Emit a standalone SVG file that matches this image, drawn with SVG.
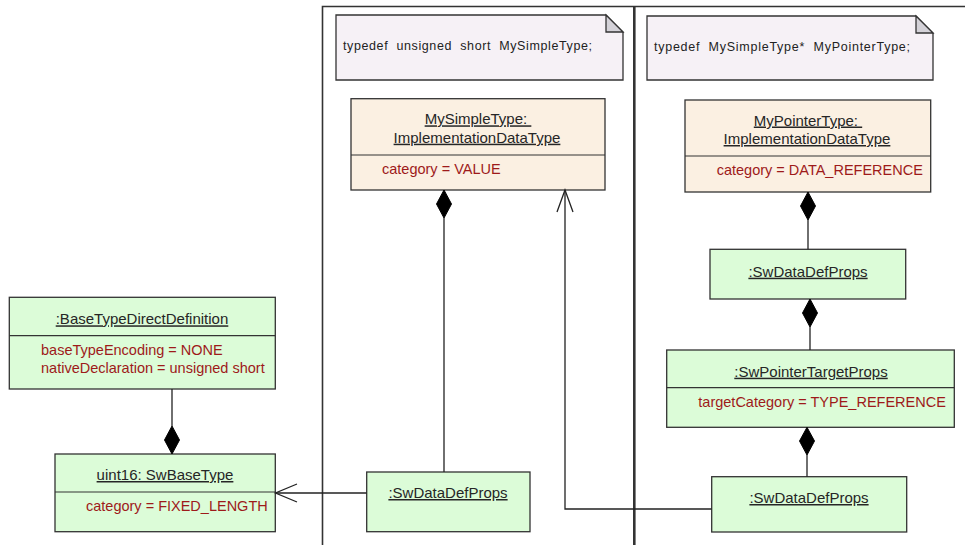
<svg xmlns="http://www.w3.org/2000/svg" width="965" height="545" viewBox="0 0 965 545">
<style>
.frame{fill:none;stroke:#333;stroke-width:1.6}
.note{fill:#f6f1f6;stroke:#333;stroke-width:1.3}
.ear{fill:#d4d2d8;stroke:#333;stroke-width:1.3}
.box{stroke:#333;stroke-width:1.3}
.green{fill:#dcfcd8}
.beige{fill:#fbf0e2}
.div{stroke:#333;stroke-width:1.2}
.t{font-family:"Liberation Sans",Arial,sans-serif;font-size:15px;fill:#262626}
.title{text-anchor:middle;text-decoration:underline}
.attr{font-family:"Liberation Sans",Arial,sans-serif;font-size:14.5px;fill:#9e1a1a}
.nt{font-family:"Liberation Sans",Arial,sans-serif;font-size:12.5px;fill:#222}
.ln{fill:none;stroke:#222;stroke-width:1.3}
.dia{fill:#000;stroke:#000;stroke-width:1}
</style>
<rect width="965" height="545" fill="#fff"/>
<g id="frames">
<path class="frame" d="M322.5,545 V6.5 H965"/>
<line class="frame" x1="634.3" y1="6.5" x2="634.3" y2="545" style="stroke-width:2.6"/>
</g>
<g id="note1">
<path class="note" d="M336,15 H606 L623,32 V80 H336 Z"/>
<path class="ear" d="M606,15 V32 H623 Z"/>
<text class="nt" x="343" y="49.5" xml:space="preserve" textLength="249" lengthAdjust="spacing">typedef  unsigned  short  MySimpleType;</text>
</g>
<g id="note2">
<path class="note" d="M647,16 H916 L933,33 V80 H647 Z"/>
<path class="ear" d="M916,16 V33 H933 Z"/>
<text class="nt" x="654" y="50.5" xml:space="preserve" textLength="256" lengthAdjust="spacing">typedef  MySimpleType*  MyPointerType;</text>
</g>
<g id="mySimpleType">
<rect class="box beige" x="351" y="98.7" width="254" height="91.3"/>
<line class="div" x1="351" y1="155" x2="605" y2="155"/>
<text class="t title" x="478" y="124.3" xml:space="preserve">MySimpleType: </text>
<text class="t title" x="477" y="142.7">ImplementationDataType</text>
<text class="attr" x="382" y="174">category = VALUE</text>
</g>
<g id="myPointerType">
<rect class="box beige" x="685" y="100" width="245.7" height="92"/>
<line class="div" x1="685" y1="156" x2="930.7" y2="156"/>
<text class="t title" x="808" y="125.5" xml:space="preserve">MyPointerType: </text>
<text class="t title" x="807" y="144">ImplementationDataType</text>
<text class="attr" x="716.7" y="175">category = DATA_REFERENCE</text>
</g>
<g id="swDataDefPropsTop">
<rect class="box green" x="710" y="249.3" width="195.7" height="49.7"/>
<text class="t title" x="808" y="276.7">:SwDataDefProps</text>
</g>
<g id="swPointerTargetProps">
<rect class="box green" x="666.7" y="350" width="287.6" height="77.3"/>
<line class="div" x1="666.7" y1="387.7" x2="954.3" y2="387.7"/>
<text class="t title" x="811" y="376.7">:SwPointerTargetProps</text>
<text class="attr" x="698.3" y="406.7">targetCategory = TYPE_REFERENCE</text>
</g>
<g id="swDataDefPropsBottomRight">
<rect class="box green" x="711.7" y="476.7" width="195" height="55.3"/>
<text class="t title" x="809" y="503">:SwDataDefProps</text>
</g>
<g id="swDataDefPropsLeft">
<rect class="box green" x="366.7" y="472" width="163.3" height="59.7"/>
<text class="t title" x="448" y="498">:SwDataDefProps</text>
</g>
<g id="baseTypeDirectDefinition">
<rect class="box green" x="9.3" y="297.3" width="266" height="91.7"/>
<line class="div" x1="9.3" y1="335.7" x2="275.3" y2="335.7"/>
<text class="t title" x="142" y="324.3">:BaseTypeDirectDefinition</text>
<text class="attr" x="41" y="355">baseTypeEncoding = NONE</text>
<text class="attr" x="41" y="373.3">nativeDeclaration = unsigned short</text>
</g>
<g id="uint16SwBaseType">
<rect class="box green" x="55" y="454" width="220.3" height="77.7"/>
<line class="div" x1="55" y1="492" x2="275.3" y2="492"/>
<text class="t title" x="165" y="480">uint16: SwBaseType</text>
<text class="attr" x="86" y="511">category = FIXED_LENGTH</text>
</g>
<g id="connectors">
<line class="ln" x1="172" y1="389" x2="172" y2="426"/>
<path class="dia" d="M172,426 L179.5,440 L172,454 L164.5,440 Z"/>
<path class="dia" d="M444,190 L451.5,204 L444,218 L436.5,204 Z"/>
<line class="ln" x1="444" y1="218" x2="444" y2="472"/>
<line class="ln" x1="366.7" y1="493" x2="275.5" y2="493"/>
<path class="ln" d="M297,484 L275.5,493 L297,502"/>
<path class="ln" d="M711.7,509 H565 V190"/>
<path class="ln" d="M557,212 L565,190 L573,212"/>
<path class="dia" d="M808,192 L815.5,206 L808,220 L800.5,206 Z"/>
<line class="ln" x1="808" y1="220" x2="808" y2="249.3"/>
<path class="dia" d="M810,299 L817.5,313 L810,327 L802.5,313 Z"/>
<line class="ln" x1="810" y1="327" x2="810" y2="350"/>
<path class="dia" d="M807,427.3 L814.5,441 L807,455 L799.5,441 Z"/>
<line class="ln" x1="807" y1="455" x2="807" y2="476.7"/>
</g>
</svg>
